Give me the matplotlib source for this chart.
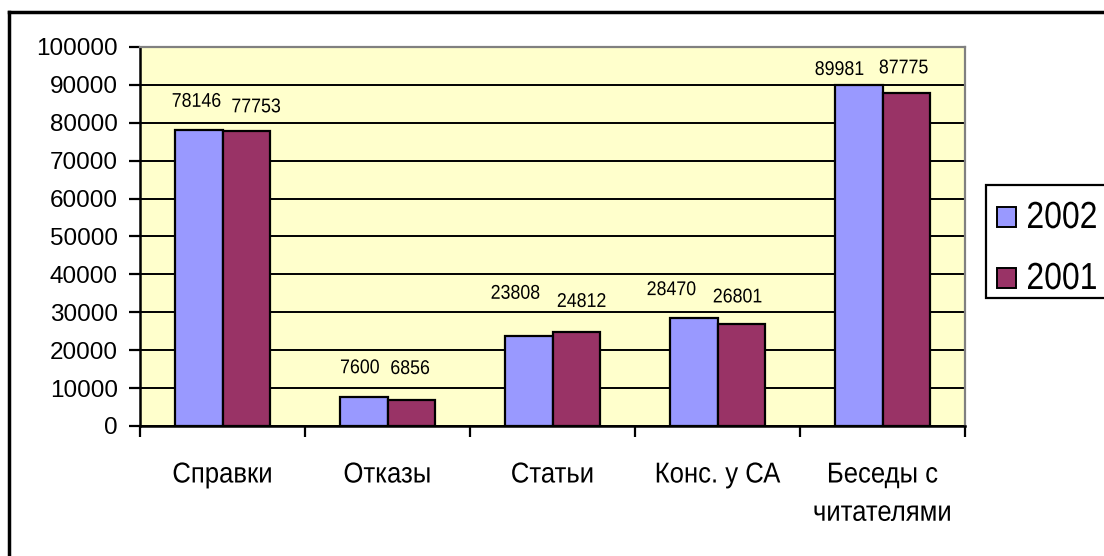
import matplotlib
matplotlib.use("Agg")
import matplotlib.pyplot as plt
from matplotlib.patches import Patch, Rectangle
from matplotlib.lines import Line2D
from matplotlib.patheffects import AbstractPathEffect
from matplotlib.transforms import Affine2D
import numpy as np

categories = ["Справки", "Отказы", "Статьи", "Конс. у СА", "Беседы с\nчитателями"]
series_names = ["2002", "2001"]
values_2002 = [78146, 7600, 23808, 28470, 89981]
values_2001 = [77753, 6856, 24812, 26801, 87775]
yticks = [0, 10000, 20000, 30000, 40000, 50000, 60000, 70000, 80000, 90000, 100000]

# label placement offsets (pixels: horizontal shift, gap above bar) as in the original
label_dx_2002 = [-2.5, -4, -13.5, -22.5, -19.5]
label_gap_2002 = [23, 24, 37, 23, 10]
label_dx_2001 = [10, -1, 5.5, -3.5, -2.5]
label_gap_2001 = [19, 26, 25, 22, 20]

colors = ["#9999FF", "#993366"]

plt.rcParams['font.family'] = ['Liberation Sans', 'DejaVu Sans']


class VStretch(AbstractPathEffect):
    """Stretch glyphs vertically around their baseline (the original font looks tall)."""
    def __init__(self, sy):
        super().__init__()
        self.sy = sy

    def draw_path(self, renderer, gc, tpath, affine, rgbFace=None):
        renderer.draw_path(gc, tpath, Affine2D().scale(1, self.sy) + affine, rgbFace)


W, H = 1104, 556
fig = plt.figure(figsize=(W / 100, H / 100), dpi=100)
fig.patch.set_facecolor("white")

ax = fig.add_axes([140 / W, 1 - 426 / H, (965 - 140) / W, (426 - 47) / H])
ax.set_facecolor("#FFFFCC")

x = np.arange(len(categories))
bw = 1 / 3.5
b1 = ax.bar(x - bw / 2, values_2002, bw, color=colors[0], edgecolor="black", linewidth=1.6, zorder=3)
b2 = ax.bar(x + bw / 2, values_2001, bw, color=colors[1], edgecolor="black", linewidth=1.6, zorder=3)

px2pt = 0.72
for bars, vals, dxs, gaps in ((b1, values_2002, label_dx_2002, label_gap_2002),
                              (b2, values_2001, label_dx_2001, label_gap_2001)):
    for rect, v, dx, g in zip(bars, vals, dxs, gaps):
        t = ax.annotate(f"{v}", (rect.get_x() + rect.get_width() / 2, v),
                        xytext=(dx * px2pt, g * px2pt), textcoords="offset points",
                        ha="center", va="baseline", fontsize=12.8, zorder=4)
        t.set_path_effects([VStretch(1.12)])

ax.set_xlim(-0.5, len(categories) - 0.5)
ax.set_ylim(0, 100000)
ax.set_yticks(yticks)
ax.set_yticklabels([str(t) for t in yticks], fontsize=17.5)
ax.yaxis.grid(True, color="black", linewidth=1.4, zorder=1)
ax.set_axisbelow(True)

# x ticks at category boundaries, labels at centers
ax.set_xticks(np.arange(-0.5, len(categories), 1.0))
ax.set_xticklabels([])
ax.set_xticks(x, minor=True)
ax.set_xticklabels(categories, minor=True, fontsize=18.5, linespacing=1.75)
for lbl in ax.get_xticklabels(minor=True):
    lbl.set_path_effects([VStretch(1.12)])
ax.tick_params(axis="x", which="minor", length=0, pad=27)
ax.tick_params(axis="x", which="major", length=8, width=1.6, direction="out", colors="black")
ax.tick_params(axis="y", length=8, width=1.6, direction="out", pad=8)

for s in ("left", "bottom"):
    ax.spines[s].set_color("black")
    ax.spines[s].set_linewidth(1.8)
for s in ("top", "right"):
    ax.spines[s].set_color("#808080")
    ax.spines[s].set_linewidth(1.6)

# outer chart frame (top and left visible)
fig.add_artist(Line2D([9 / W, 1.01], [1 - 12 / H, 1 - 12 / H], transform=fig.transFigure,
                      color="black", linewidth=2.5))
fig.add_artist(Line2D([9 / W, 9 / W], [1 - 12 / H, -0.01], transform=fig.transFigure,
                      color="black", linewidth=2.5))

# legend box
fig.add_artist(Rectangle((986 / W, 1 - 298 / H), (1120 - 986) / W, (298 - 185) / H,
                         transform=fig.transFigure, facecolor="white", edgecolor="black",
                         linewidth=1.6, clip_on=False))
handles = [Patch(facecolor=c, edgecolor="black", linewidth=1.4) for c in colors]
leg = fig.legend(handles, series_names, loc="center left",
                 bbox_to_anchor=(997 / W, 1 - 250.5 / H), frameon=False,
                 fontsize=23, handlelength=0.6, handleheight=0.6,
                 handletextpad=0.32, labelspacing=0.97, borderpad=0, borderaxespad=0)
for t in leg.get_texts():
    t.set_path_effects([VStretch(1.18)])

fig.savefig("out.png", dpi=100, facecolor="white")
